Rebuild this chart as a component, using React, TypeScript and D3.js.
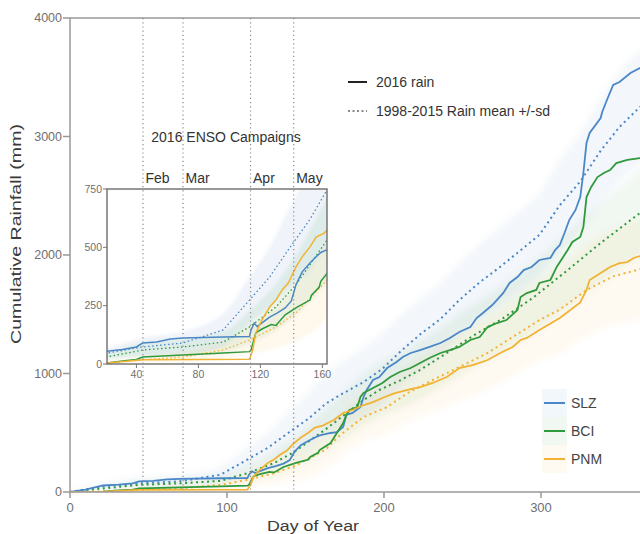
import React from "react";
import * as d3 from "d3";

// ---- 2016 cumulative rain (day, mm) ----
const slzDays = [0,10,21,31,40,44,53,62,70,96,113,114,116,118,121,126,131,136,140,143,147,152,156,159,166,170,174,176,180,185,187,189,193,197,202,208,212,217,223,229,236,242,248,255,259,263,269,276,280,285,289,294,299,306,309,312,315,318,322,325,327,329,331,338,339,342,346,350,357,363,366];
const slzRain = [0,20,55,62,73,90,94,107,111,116,118,146,175,160,176,201,219,240,270,340,395,433,460,478,498,506,549,650,667,717,802,861,945,970,1046,1097,1139,1173,1198,1224,1257,1300,1350,1392,1468,1511,1578,1680,1764,1814,1873,1899,1958,1975,2042,2084,2186,2295,2380,2489,2692,2945,3030,3156,3207,3308,3435,3460,3536,3578,3600];

const bciDays = [0,21,31,40,44,70,96,113,114,117,121,127,130,136,144,152,153,158,159,166,170,174,176,178,183,185,187,193,199,204,210,217,223,229,236,242,248,255,261,266,272,278,285,287,291,297,299,306,310,317,320,325,327,329,332,336,340,344,348,355,363,366];
const bciRain = [0,4,13,19,30,39,47,53,60,133,150,169,165,211,245,274,295,330,354,413,498,582,650,692,717,802,835,878,920,970,1013,1046,1089,1131,1173,1198,1224,1283,1308,1392,1426,1451,1536,1646,1679,1705,1764,1789,1899,2042,2110,2152,2236,2489,2574,2658,2692,2717,2776,2802,2818,2820];

const pnmDays = [0,21,44,113,115,117,119,121,126,130,134,138,143,147,152,156,161,168,174,180,187,193,199,206,215,223,231,240,248,257,266,274,282,287,291,299,312,325,329,331,338,344,350,355,359,363,366];
const pnmRain = [0,4,18,20,60,133,160,189,244,274,317,347,416,459,502,544,560,608,667,692,734,759,793,830,861,886,920,970,1046,1072,1114,1173,1224,1283,1300,1367,1468,1600,1705,1789,1848,1899,1932,1940,1975,1990,2000];

// ---- 1998-2015 mean and sd ----
const slzMeanDays = [0,21,44,70,96,113,126,138,152,163,172,187,199,210,223,236,248,261,274,287,299,312,325,338,350,363,366];
const slzMean = [0,47,73,90,146,274,373,489,620,746,818,928,1040,1180,1330,1460,1620,1770,1900,2040,2170,2420,2620,2880,3080,3249,3280];
const slzSd = [0,20,40,50,70,100,130,170,220,250,270,290,300,300,300,300,310,320,330,340,350,380,410,440,460,480,480];

const bciMeanDays = [0,21,44,70,96,113,130,143,163,187,197,210,223,240,257,274,295,317,338,363,366];
const bciMean = [0,30,60,73,94,159,244,340,531,776,861,940,1030,1173,1320,1450,1640,1873,2101,2354,2380];
const bciSd = [0,15,30,35,45,70,100,130,180,220,230,240,250,260,270,280,300,320,340,360,360];

const pnmMeanDays = [0,21,44,70,96,113,130,143,163,172,187,202,215,231,248,266,282,299,312,329,346,363,366];
const pnmMean = [0,5,18,30,60,103,159,219,360,480,633,717,835,945,1055,1173,1308,1451,1540,1705,1820,1880,1900];
const pnmSd = [0,5,12,20,35,60,90,120,160,180,200,220,240,260,280,300,320,340,360,380,400,420,420];

// ---- labels ----
const campaignDays = [46.5, 72, 115, 142.5];
const campaignLabels = ["Feb", "Mar", "Apr", "May"];
const yTicks = [0, 1000, 2000, 3000, 4000];
const xTicks = [0, 100, 200, 300];
const insetYTicks = [0, 250, 500, 750];
const insetXTicks = [40, 80, 120, 160];
const stations = ["SLZ", "BCI", "PNM"];
const colors = ["#4a87c6", "#2f9a3c", "#f2b233"];

const FONT = "'Liberation Sans', Arial, Helvetica, sans-serif";

type Pt = { d: number; v: number; s?: number };
const zip = (ds: number[], vs: number[], ss?: number[]): Pt[] =>
  ds.map((d, i) => ({ d, v: vs[i], s: ss ? ss[i] : 0 }));

const rain = [zip(slzDays, slzRain), zip(bciDays, bciRain), zip(pnmDays, pnmRain)];
const means = [
  zip(slzMeanDays, slzMean, slzSd),
  zip(bciMeanDays, bciMean, bciSd),
  zip(pnmMeanDays, pnmMean, pnmSd),
];

export default function App() {
  const x = d3.scaleLinear().domain([0, 366]).range([70, 644.6]);
  const y = d3.scaleLinear().domain([0, 4000]).range([492, 18]);
  const xi = d3.scaleLinear().domain([21, 163]).range([107, 327]);
  const yi = d3.scaleLinear().domain([0, 750]).range([364, 189]);

  const mkLine = (sx: any, sy: any) =>
    d3.line<Pt>().x((p) => sx(p.d)).y((p) => sy(p.v));
  const mkArea = (sx: any, sy: any) =>
    d3
      .area<Pt>()
      .x((p) => sx(p.d))
      .y0((p) => sy(Math.max(0, p.v - (p.s || 0))))
      .y1((p) => sy(p.v + (p.s || 0)))
      .curve(d3.curveMonotoneX);

  const mainLine = mkLine(x, y);
  const mainArea = mkArea(x, y);
  const inLine = mkLine(xi, yi);
  const inArea = mkArea(xi, yi);
  const axisCol = "#999";
  const tickTxt = "#707070";

  return (
    <svg
      width={640}
      height={534}
      style={{ position: "absolute", left: 0, top: 0, background: "#fff" }}
      fontFamily={FONT}
    >
      <defs>
        <clipPath id="mainClip">
          <rect x={70} y={18} width={575} height={474} />
        </clipPath>
        <clipPath id="insetClip">
          <rect x={107} y={189} width={220} height={175} />
        </clipPath>
        <filter id="soft" x="-10%" y="-10%" width="120%" height="120%">
          <feGaussianBlur stdDeviation="3" />
        </filter>
        <filter id="softS" x="-10%" y="-10%" width="120%" height="120%">
          <feGaussianBlur stdDeviation="1.5" />
        </filter>
      </defs>

      {/* main bands */}
      <g clipPath="url(#mainClip)">
        <g filter="url(#soft)">
          {means.map((m, i) => (
            <path key={"a" + i} d={mainArea(m) || ""} fill={colors[i]} fillOpacity={0.075} />
          ))}
        </g>
        {means.map((m, i) => (
          <path
            key={"m" + i}
            d={mainLine(m) || ""}
            fill="none"
            stroke={colors[i]}
            strokeWidth={2}
            strokeDasharray="2,3.5"
          />
        ))}
        {rain.map((r, i) => (
          <path key={"r" + i} d={mainLine(r) || ""} fill="none" stroke={colors[i]} strokeWidth={1.8} />
        ))}
      </g>

      {/* main frame and axes */}
      <line x1={70} x2={645} y1={18} y2={18} stroke={axisCol} strokeWidth={1.5} />
      <line x1={70} x2={70} y1={18} y2={492} stroke={axisCol} strokeWidth={1.5} />
      <line x1={70} x2={645} y1={492} y2={492} stroke={axisCol} strokeWidth={1.5} />
      {yTicks.map((t) => (
        <g key={"yt" + t}>
          <line x1={63} x2={70} y1={y(t)} y2={y(t)} stroke={axisCol} strokeWidth={1.5} />
          <text x={62} y={y(t)} dy="0.35em" textAnchor="end" fontSize={12.5} fill={tickTxt}>
            {t}
          </text>
        </g>
      ))}
      {xTicks.map((t) => (
        <g key={"xt" + t}>
          <line x1={x(t)} x2={x(t)} y1={492} y2={498} stroke={axisCol} strokeWidth={1.5} />
          <text x={x(t)} y={512} textAnchor="middle" fontSize={13} fill={tickTxt}>
            {t}
          </text>
        </g>
      ))}
      <text
        x={313}
        y={531}
        textAnchor="middle"
        fontSize={15.5}
        fill="#3a3a3a"
        textLength={92}
        lengthAdjust="spacingAndGlyphs"
      >
        Day of Year
      </text>
      <text
        transform="translate(21,234) rotate(-90)"
        textAnchor="middle"
        fontSize={15.5}
        fill="#3a3a3a"
        textLength={220}
        lengthAdjust="spacingAndGlyphs"
      >
        Cumulative Rainfall (mm)
      </text>

      {/* inset */}
      <rect x={107} y={189} width={220} height={175} fill="#fff" />
      <g clipPath="url(#insetClip)">
        <g filter="url(#softS)">
          {means.map((m, i) => (
            <path key={"ia" + i} d={inArea(m) || ""} fill={colors[i]} fillOpacity={0.09} />
          ))}
        </g>
        {means.map((m, i) => (
          <path
            key={"im" + i}
            d={inLine(m) || ""}
            fill="none"
            stroke={colors[i]}
            strokeWidth={1.3}
            strokeDasharray="1.5,2.5"
          />
        ))}
        {rain.map((r, i) => (
          <path key={"ir" + i} d={inLine(r) || ""} fill="none" stroke={colors[i]} strokeWidth={1.5} />
        ))}
      </g>
      <rect x={107} y={189} width={220} height={175} fill="none" stroke="#6e6e6e" strokeWidth={1.4} />
      {insetYTicks.map((t) => (
        <g key={"iy" + t}>
          <line x1={103} x2={107} y1={yi(t)} y2={yi(t)} stroke="#777" />
          <text x={102} y={yi(t)} dy="0.35em" textAnchor="end" fontSize={10.5} fill={tickTxt}>
            {t}
          </text>
        </g>
      ))}
      {insetXTicks.map((t) => (
        <g key={"ix" + t}>
          <line x1={xi(t)} x2={xi(t)} y1={364} y2={368} stroke="#777" />
          <text x={xi(t)} y={378} textAnchor="middle" fontSize={10.5} fill={tickTxt}>
            {t}
          </text>
        </g>
      ))}
      <text x={226} y={142} textAnchor="middle" fontSize={14} fill="#333">
        2016 ENSO Campaigns
      </text>

      {/* campaign lines */}
      {campaignDays.map((d, i) => (
        <g key={"c" + i}>
          <line
            x1={x(d)}
            x2={x(d)}
            y1={18}
            y2={492}
            stroke="#8a8a8a"
            strokeWidth={1.2}
            strokeDasharray="1.2,3"
          />
          <text x={x(d) + 2.5} y={183} fontSize={14} fill="#333">
            {campaignLabels[i]}
          </text>
        </g>
      ))}

      {/* type legend */}
      <line x1={348} x2={367} y1={82} y2={82} stroke="#222" strokeWidth={2} />
      <text x={376} y={82} dy="0.35em" fontSize={14} fill="#333">
        2016 rain
      </text>
      <line x1={348} x2={367} y1={111} y2={111} stroke="#888" strokeWidth={2} strokeDasharray="2,2.5" />
      <text x={376} y={111} dy="0.35em" fontSize={14} fill="#333">
        1998-2015 Rain mean +/-sd
      </text>

      {/* station legend */}
      {stations.map((s, i) => (
        <g key={"s" + i}>
          <rect x={542} y={389 + i * 28} width={25} height={28} fill={colors[i]} fillOpacity={0.07} />
          <line x1={544} x2={565} y1={403 + i * 28} y2={403 + i * 28} stroke={colors[i]} strokeWidth={2} />
          <text x={571} y={403 + i * 28} dy="0.35em" fontSize={14} fill="#444">
            {s}
          </text>
        </g>
      ))}
    </svg>
  );
}
